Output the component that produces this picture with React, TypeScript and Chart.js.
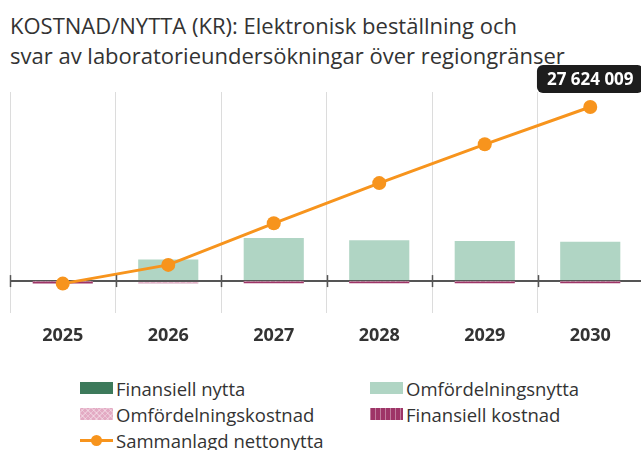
import React, { useEffect, useRef } from "react";
import { Chart, registerables } from "chart.js";

Chart.register(...registerables);

const titleLines = [
  "KOSTNAD/NYTTA (KR): Elektronisk beställning och",
  "svar av laboratorieundersökningar över regiongränser",
];
const years = ["2025", "2026", "2027", "2028", "2029", "2030"];
const finansiellNytta = [0, 0, 0, 0, 0, 0];
const omfordelningsnytta = [0, 3420000, 6840000, 6470000, 6360000, 6250000];
const omfordelningskostnad = [-50000, -250000, -80000, -80000, -80000, -80000];
const finansiellKostnad = [-350000, -100000, -250000, -250000, -250000, -250000];
const nettonytta = [-400000, 2570000, 9170000, 15550000, 21700000, 27624009];
const yMin = -5000000;
const yMax = 30000000;

const labelNames = {
  fn: "Finansiell nytta",
  on: "Omfördelningsnytta",
  ok: "Omfördelningskostnad",
  fk: "Finansiell kostnad",
  net: "Sammanlagd nettonytta",
};

const C_FN = "#3d7a5b";
const C_ON = "#b0d5c4";
const C_OK = "#e3aac3";
const C_FK = "#9e3467";
const C_NET = "#f7941d";
const FONT = "'Open Sans', 'Noto Sans', sans-serif";

function fmt(v: number) {
  return Math.round(v)
    .toString()
    .replace(/\B(?=(\d{3})+(?!\d))/g, " ");
}

function makePattern(kind: "ok" | "fk") {
  const c = document.createElement("canvas");
  const s = kind === "ok" ? 6 : 5;
  c.width = s;
  c.height = s;
  const g = c.getContext("2d")!;
  if (kind === "ok") {
    g.fillStyle = C_OK;
    g.fillRect(0, 0, s, s);
    g.strokeStyle = "rgba(255,255,255,0.3)";
    g.lineWidth = 1;
    g.beginPath();
    g.moveTo(0, 0);
    g.lineTo(s, s);
    g.moveTo(s, 0);
    g.lineTo(0, s);
    g.stroke();
  } else {
    g.fillStyle = C_FK;
    g.fillRect(0, 0, s, s);
    g.fillStyle = "rgba(255,255,255,0.35)";
    g.fillRect(0, 0, 1, 2);
  }
  return g.createPattern(c, "repeat")!;
}

const zeroTicksPlugin = {
  id: "zeroTicks",
  afterDatasetsDraw(chart: any) {
    const x = chart.scales.x;
    const y = chart.scales.y;
    const y0 = y.getPixelForValue(0);
    const ctx = chart.ctx;
    ctx.save();
    ctx.strokeStyle = "#555";
    ctx.lineWidth = 1.5;
    for (let i = 0; i <= years.length; i++) {
      const px = Math.round(x.getPixelForValue(i - 0.5)) + 0.5;
      ctx.beginPath();
      ctx.moveTo(px, y0 - 6);
      ctx.lineTo(px, y0 + 6);
      ctx.stroke();
    }
    ctx.restore();
  },
};

const tooltipPlugin = {
  id: "fixedTip",
  afterDraw(chart: any) {
    const meta = chart.getDatasetMeta(chart.data.datasets.length - 1);
    const idx = nettonytta.length - 1;
    const el = meta.data[idx];
    if (!el) return;
    const ctx = chart.ctx;
    const text = fmt(nettonytta[idx]);
    ctx.save();
    ctx.font = `bold 17px ${FONT}`;
    const w = ctx.measureText(text).width + 20;
    const h = 28;
    const bx = el.x - w / 2;
    const by = el.y - 14 - h;
    ctx.fillStyle = "#1d1d1d";
    ctx.beginPath();
    (ctx as any).roundRect(bx, by, w, h, 6);
    ctx.fill();
    ctx.fillStyle = "#fff";
    ctx.textAlign = "center";
    ctx.textBaseline = "middle";
    ctx.fillText(text, el.x, by + h / 2 + 1);
    ctx.restore();
  },
};

function LegendItem({ kind, label, left, top }: any) {
  let swatch: any;
  if (kind === "net") {
    swatch = (
      <div style={{ position: "relative", width: 33, height: 12, marginRight: 3 }}>
        <div style={{ position: "absolute", left: 0, top: 5, width: 33, height: 3, background: C_NET }} />
        <div
          style={{
            position: "absolute",
            left: 11,
            top: 1,
            width: 11,
            height: 11,
            borderRadius: "50%",
            background: C_NET,
          }}
        />
      </div>
    );
  } else {
    let bg: any = { background: C_FN };
    if (kind === "on") bg = { background: C_ON };
    if (kind === "ok")
      bg = {
        backgroundColor: C_OK,
        backgroundImage:
          "repeating-linear-gradient(45deg, rgba(255,255,255,0.3) 0 1px, transparent 1px 4px), repeating-linear-gradient(-45deg, rgba(255,255,255,0.3) 0 1px, transparent 1px 4px)",
      };
    if (kind === "fk")
      bg = {
        backgroundColor: C_FK,
        backgroundImage:
          "repeating-linear-gradient(90deg, rgba(255,255,255,0.35) 0 1px, transparent 1px 5px)",
      };
    swatch = <div style={{ width: 33, height: 12, marginRight: 3, ...bg }} />;
  }
  return (
    <div
      style={{
        position: "absolute",
        left,
        top,
        height: 26,
        display: "flex",
        alignItems: "center",
        fontFamily: FONT,
        fontSize: 18.5,
        color: "#333",
        whiteSpace: "nowrap",
      }}
    >
      {swatch}
      <span>{label}</span>
    </div>
  );
}

export default function App() {
  const ref = useRef<HTMLCanvasElement>(null);

  useEffect(() => {
    const canvas = ref.current!;
    const chart = new Chart(canvas, {
      type: "bar",
      data: {
        labels: years,
        datasets: [
          {
            type: "bar",
            label: labelNames.fn,
            data: finansiellNytta,
            backgroundColor: C_FN,
            stack: "bars",
            order: 1,
          },
          {
            type: "bar",
            label: labelNames.on,
            data: omfordelningsnytta,
            backgroundColor: C_ON,
            stack: "bars",
            order: 1,
          },
          {
            type: "bar",
            label: labelNames.ok,
            data: omfordelningskostnad,
            backgroundColor: makePattern("ok"),
            stack: "bars",
            order: 1,
          },
          {
            type: "bar",
            label: labelNames.fk,
            data: finansiellKostnad,
            backgroundColor: makePattern("fk"),
            stack: "bars",
            order: 1,
          },
          {
            type: "line",
            label: labelNames.net,
            data: nettonytta,
            borderColor: C_NET,
            backgroundColor: C_NET,
            borderWidth: 3,
            pointRadius: 7,
            pointBorderWidth: 0,
            pointBackgroundColor: C_NET,
            tension: 0,
            stack: "net",
            order: 0,
          } as any,
        ],
      },
      options: {
        responsive: false,
        animation: false,
        devicePixelRatio: 1,
        layout: { padding: { top: 92, left: 10, right: 6, bottom: 5.8 } },
        datasets: { bar: { categoryPercentage: 1, barPercentage: 0.57 } } as any,
        plugins: {
          legend: { display: false },
          title: { display: false },
          tooltip: { enabled: false },
        },
        scales: {
          x: {
            stacked: true,
            grid: {
              color: "#dcdcdc",
              lineWidth: 1,
              offset: true,
              drawTicks: false,
            },
            border: { display: false },
            ticks: {
              padding: 12,
              color: "#333",
              font: { family: FONT, size: 18, weight: "bold" },
            },
          },
          y: {
            stacked: true,
            min: yMin,
            max: yMax,
            grid: {
              drawTicks: false,
              color: (c: any) => (c.tick && c.tick.value === 0 ? "#555" : "transparent"),
              lineWidth: (c: any) => (c.tick && c.tick.value === 0 ? 2 : 0),
            },
            border: { display: false },
            ticks: { display: false, stepSize: 5000000 },
          },
        },
      },
      plugins: [zeroTicksPlugin, tooltipPlugin],
    });
    return () => chart.destroy();
  }, []);

  return (
    <div
      style={{
        position: "fixed",
        left: 0,
        top: 0,
        width: 641,
        height: 450,
        overflow: "hidden",
        background: "#fff",
      }}
    >
      <div
        style={{
          position: "absolute",
          left: 10,
          top: 10,
          fontFamily: FONT,
          fontSize: 22,
          lineHeight: "30px",
          color: "#333",
          whiteSpace: "nowrap",
          zIndex: 0,
        }}
      >
        {titleLines.map((t) => (
          <div key={t}>{t}</div>
        ))}
      </div>
      <canvas
        ref={ref}
        width={650}
        height={364}
        style={{ position: "absolute", left: 0, top: 0, width: 650, height: 364, zIndex: 1 }}
      />
      <LegendItem kind="fn" label={labelNames.fn} left={80} top={375} />
      <LegendItem kind="on" label={labelNames.on} left={370} top={375} />
      <LegendItem kind="ok" label={labelNames.ok} left={80} top={401} />
      <LegendItem kind="fk" label={labelNames.fk} left={370} top={401} />
      <LegendItem kind="net" label={labelNames.net} left={80} top={427} />
    </div>
  );
}
